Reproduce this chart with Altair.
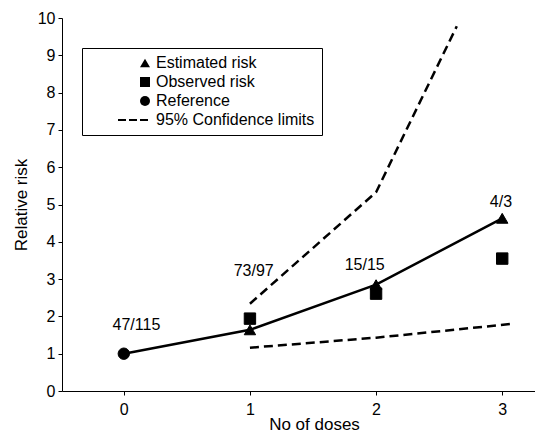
import altair as alt
import pandas as pd

# ---- data ----
doses_est = [0, 1, 2, 3]
risk_est = [1.0, 1.64, 2.85, 4.63]

upper_x = [1, 2, 2.64]
upper_y = [2.34, 5.33, 9.78]
lower_x = [1, 2, 3.08]
lower_y = [1.16, 1.43, 1.80]

pt_series = ["Estimated risk", "Estimated risk", "Estimated risk",
             "Observed risk", "Observed risk", "Observed risk", "Reference"]
pt_x = [1, 2, 3, 1, 2, 3, 0]
pt_y = [1.64, 2.85, 4.63, 1.94, 2.61, 3.55, 1.0]

lab_text = ["47/115", "73/97", "15/15", "4/3"]
lab_x = [0.1, 1.03, 1.91, 2.99]
lab_y = [1.78, 3.21, 3.37, 5.07]

legend_names = ["Estimated risk", "Observed risk", "Reference", "95% Confidence limits"]
legend_shapes = [
    "triangle-up", "square", "circle",
    "M-5.4,-0.22H-3.8V0.22H-5.4Z M-3.2,-0.22H-1.6V0.22H-3.2Z M-1,-0.22H0.6V0.22H-1Z",
]

FONT = "Liberation Sans"

est_df = pd.DataFrame({"x": doses_est, "y": risk_est})
ci_df = pd.DataFrame({
    "x": upper_x + lower_x,
    "y": upper_y + lower_y,
    "band": ["upper"] * len(upper_x) + ["lower"] * len(lower_x),
})
pt_df = pd.DataFrame({"x": pt_x, "y": pt_y, "series": pt_series})
lab_df = pd.DataFrame({"x": lab_x, "y": lab_y, "t": lab_text})

xscale = alt.Scale(domain=[-0.49, 3.26], nice=False, zero=False)
yscale = alt.Scale(domain=[0, 10], nice=False)

xaxis = alt.Axis(values=[0, 1, 2, 3], format="d", title="No of doses", grid=False,
                 tickSize=4, labelPadding=6, titleX=252, titleY=38,
                 titleBaseline="alphabetic")
yaxis = alt.Axis(values=list(range(0, 11)), format="d", title="Relative risk", grid=False,
                 tickSize=4, labelPadding=3, titleX=-41, titleBaseline="middle")

X = alt.X("x:Q", scale=xscale, axis=xaxis)
Y = alt.Y("y:Q", scale=yscale, axis=yaxis)

est_line = alt.Chart(est_df).mark_line(color="black", strokeWidth=2.5).encode(x=X, y=Y)

ci_lines = alt.Chart(ci_df).mark_line(color="black", strokeWidth=2.5, strokeDash=[9, 5]).encode(
    x=X, y=Y, detail="band:N")

points = alt.Chart(pt_df).mark_point(filled=True, fill="black", stroke="black", strokeWidth=1,
                                     size=130, opacity=1).encode(
    x=X, y=Y,
    shape=alt.Shape("series:N",
                    scale=alt.Scale(domain=legend_names, range=legend_shapes),
                    sort=legend_names,
                    legend=alt.Legend(
                        title=None, orient="none", legendX=20, legendY=30,
                        padding=7, symbolOffset=48, labelOffset=3, rowPadding=3,
                        symbolSize=100,
                        symbolFillColor="black", symbolStrokeColor="black",
                        labelFont=FONT, labelFontSize=16, labelColor="black",
                        strokeColor="black", fillColor="white",
                    )),
    order=alt.Order("x:Q"),
)

labels = alt.Chart(lab_df).mark_text(font=FONT, fontSize=16, color="black",
                                     align="center", baseline="middle").encode(
    x=X, y=Y, text="t:N")

chart = alt.layer(est_line, ci_lines, points, labels).properties(
    width=473, height=373,
    autosize=alt.AutoSizeParams(type="none"),
    padding={"left": 54, "top": 10, "right": 0, "bottom": 42},
).configure_view(stroke=None).configure_axis(
    domainColor="black", tickColor="black", labelColor="black", titleColor="black",
    labelFont=FONT, titleFont=FONT, labelFontSize=16, titleFontSize=17,
    titleFontWeight="normal", domainWidth=1, tickWidth=1,
)

chart.save("out.html", embed_options={"renderer": "svg", "actions": False})
